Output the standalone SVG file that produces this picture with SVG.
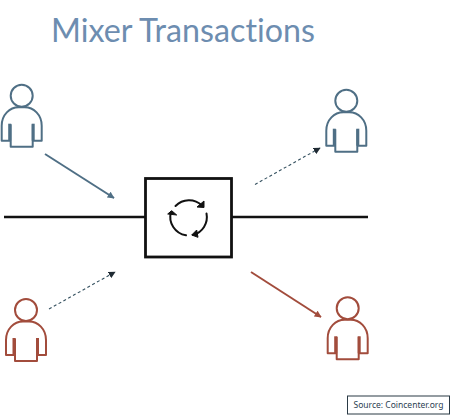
<svg xmlns="http://www.w3.org/2000/svg" width="451" height="417" viewBox="0 0 451 417">
<style>
.p{fill:none;stroke:currentColor;stroke-width:2;stroke-linejoin:round}
.bar{fill:currentColor;stroke:none}
.blue{color:#4f6f85}
.red{color:#a24c3c}
.k{fill:none;stroke:#111;stroke-width:2.8}
.c{fill:none;stroke:#111;stroke-width:2;stroke-linecap:round}
.h{fill:#111;stroke:#111;stroke-width:1;stroke-linejoin:round}
.title{font-family:"Lato","Liberation Sans",sans-serif;font-weight:400;font-size:33px;fill:#6d8db0;font-variant-ligatures:none}
.src{font-family:"Noto Sans","Liberation Sans",sans-serif;font-size:9.500px;fill:#2c4152}
</style>
<defs>
<g id="person">
<circle class="p" cx="0" cy="0" r="11"/>
<path class="p" d="M-11 45V51H11V45H20V30C20 19 12 11.500 3 11.500H-3C-12 11.500-20 19-20 30V45H-11V28.500M11 45V28.500"/>
<rect class="bar" x="-13.500" y="28" width="3" height="17"/>
<rect class="bar" x="10" y="28" width="3" height="17"/>
</g>
<marker id="ah" viewBox="0 0 10 10" refX="9" refY="5" markerWidth="7" markerHeight="7" markerUnits="userSpaceOnUse" orient="auto"><path d="M0 0L10 5L0 10Z" fill="#1f2a33"/></marker>
<marker id="ab" viewBox="0 0 10 10" refX="9" refY="5" markerWidth="7" markerHeight="7" markerUnits="userSpaceOnUse" orient="auto"><path d="M0 0L10 5L0 10Z" fill="#4f6f85"/></marker>
<marker id="ar" viewBox="0 0 10 10" refX="9" refY="5" markerWidth="7" markerHeight="7" markerUnits="userSpaceOnUse" orient="auto"><path d="M0 0L10 5L0 10Z" fill="#a24c3c"/></marker>
</defs>
<rect width="451" height="417" fill="#fff"/>
<text class="title" x="51" y="42" textLength="264" lengthAdjust="spacingAndGlyphs">Mixer Transactions</text>
<g id="connectors">
<path d="M4 217H145M231 217H368" fill="none" stroke="#111" stroke-width="2.400"/>
<line x1="45" y1="154" x2="114" y2="198" stroke="#4f6f85" stroke-width="2" marker-end="url(#ab)"/>
<line x1="251" y1="272" x2="321" y2="317" stroke="#a24c3c" stroke-width="2" marker-end="url(#ar)"/>
<line x1="255" y1="184.500" x2="320" y2="148" stroke="#34505f" stroke-width="1.100" stroke-dasharray="3 2.500" marker-end="url(#ah)"/>
<line x1="49" y1="309" x2="115" y2="272" stroke="#34505f" stroke-width="1.100" stroke-dasharray="3 2.500" marker-end="url(#ah)"/>
</g>
<g id="mixer">
<rect class="k" x="145.500" y="178.500" width="86" height="78.500"/>
<path class="c" d="M175.500 206A18.500 18.500 0 0 1 202 205.500"/>
<path class="c" d="M206.500 213.500A18.500 18.500 0 0 1 193 235"/>
<path class="c" d="M186 235.300A18.500 18.500 0 0 1 171 212"/>
<path class="h" d="M204 201L204 207.500L197 207Z"/>
<path class="h" d="M196.700 230L191.700 235L198 237.300Z"/>
<path class="h" d="M171.700 210.700L167.700 214L176.700 215Z"/>
</g>
<g id="user-in-blue" class="blue"><use href="#person" x="21.700" y="95.700"/></g>
<g id="user-out-blue" class="blue"><use href="#person" x="346.300" y="100.700"/></g>
<g id="user-in-red" class="red"><use href="#person" x="26" y="310"/></g>
<g id="user-out-red" class="red"><use href="#person" x="347.700" y="308.300"/></g>
<g id="source">
<rect x="347.500" y="396" width="102" height="18" fill="#fff" stroke="#2a3a45" stroke-width="1"/>
<text class="src" x="398.500" y="408.300" text-anchor="middle" textLength="90" lengthAdjust="spacingAndGlyphs">Source: Coincenter.org</text>
</g>
</svg>
